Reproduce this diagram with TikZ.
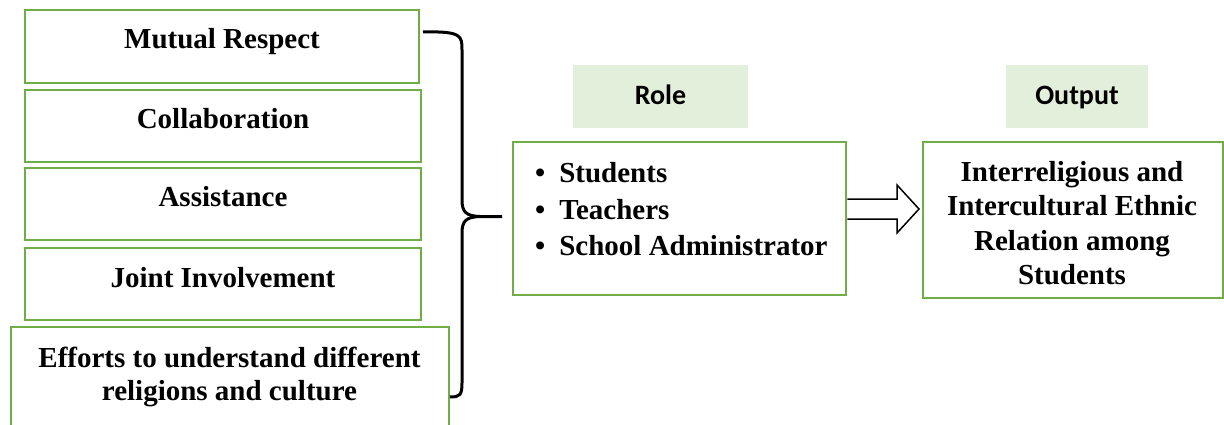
\documentclass[tikz,border=0pt]{standalone}
\usepackage{fontspec}
\setmainfont{Liberation Serif}
\newfontfamily\calibri{Carlito}
\usetikzlibrary{calc}
\definecolor{gborder}{HTML}{70AD47}
\definecolor{gfill}{HTML}{E2EFDA}
\begin{document}
\begin{tikzpicture}[x=1pt,y=-1pt,
  gbox/.style={draw=gborder, line width=2.6pt, inner sep=0pt},
  bt/.style={inner sep=0pt, font=\fontsize{29}{35}\selectfont\bfseries},
  lab/.style={fill=gfill, inner sep=0pt, text height=17pt, text depth=1pt, font=\calibri\fontsize{28}{34}\selectfont\bfseries},
  bracestyle/.style={line width=3pt, black},
  arr/.style={line width=1.5pt, black, line join=miter}]
\useasboundingbox (0,0) rectangle (1224,425);
% left boxes
\node[gbox, bt, minimum width=394pt, minimum height=73pt, text height=39pt, text depth=34pt] (mr) at (222,46.5) {Mutual Respect};
\node[gbox, bt, minimum width=396pt, minimum height=72pt, text height=39pt, text depth=33pt] (co) at (223,126) {Collaboration};
\node[gbox, bt, minimum width=396pt, minimum height=72pt, text height=39pt, text depth=33pt] (as) at (223,204) {Assistance};
\node[gbox, bt, minimum width=396pt, minimum height=72pt, text height=39pt, text depth=33pt] (ji) at (223,284) {Joint Involvement};
\node[gbox, minimum width=438pt, minimum height=140pt] (ef) at (230,397) {};
\node[bt, align=center, font=\fontsize{29}{33}\selectfont\bfseries] (eft) at (229.5,376.5) {Efforts to understand different\\religions and culture};
% brace
\coordinate (bra) at (423,32);
\coordinate (brm) at (480,216.5);
\coordinate (brt) at (502,216.5);
\coordinate (brb) at (450,397);
\draw[bracestyle] (bra) .. controls (462,31) and (462,36) .. (462,50) -- (462,200) .. controls (462,212) and (466,216) .. (brm) -- (brt);
\draw[bracestyle] (brm) .. controls (466,217) and (462,221) .. (462,233) -- (462,383) .. controls (462,395) and (460,397) .. (brb);
% role
\node[lab, minimum width=175pt, minimum height=63pt] (rl) at (660.5,96.5) {Role};
\node[gbox, minimum width=333pt, minimum height=153pt] (role) at (679.5,218.5) {};
\node[bt, align=left, anchor=west, font=\fontsize{29}{36.5}\selectfont\bfseries] (rolet) at (535,209.5) {\textbullet\hspace{14pt}Students\\\textbullet\hspace{14pt}Teachers\\\textbullet\hspace{14pt}School Administrator};
% output
\node[lab, minimum width=142pt, minimum height=63pt] (ol) at (1077,96.5) {Output};
\node[gbox, minimum width=300pt, minimum height=156pt] (out) at (1073,220) {};
\node[bt, align=center, font=\fontsize{29}{34.5}\selectfont\bfseries] (outt) at (1072,223) {Interreligious and\\Intercultural Ethnic\\Relation among\\Students};
% arrow
\coordinate (ah) at (919,209);
\draw[arr] (role.east |- 0,199) -- (897,199) -- (897,185) -- (ah) -- (897,233) -- (897,219) -- (role.east |- 0,219);
\end{tikzpicture}
\end{document}
